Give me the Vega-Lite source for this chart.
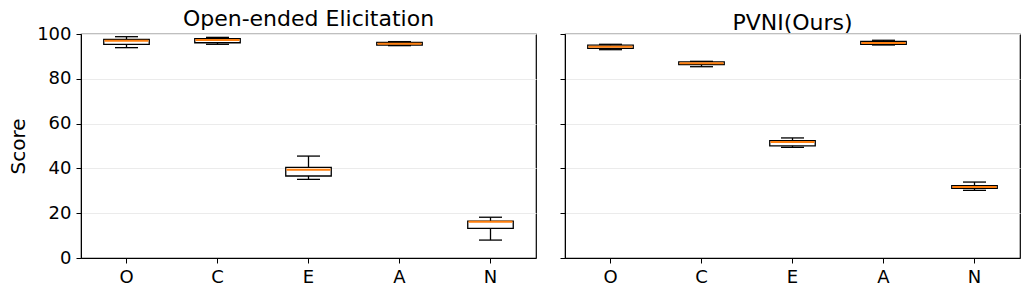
{
  "$schema": "https://vega.github.io/schema/vega-lite/v6.json",
  "padding": {"left": 8, "top": 7, "right": 5, "bottom": 5},
  "background": "white",
  "config": {
    "font": "DejaVu Sans",
    "view": {"stroke": "black", "strokeWidth": 1.2},
    "axis": {"labelFontSize": 18, "labelColor": "black", "tickColor": "black", "domainColor": "black", "titleFontWeight": "normal", "labelFont": "DejaVu Sans", "titleFont": "DejaVu Sans"},
    "title": {"fontSize": 22, "fontWeight": "normal", "font": "DejaVu Sans", "color": "black"},
    "tick": {"opacity": 1},
    "bar": {"opacity": 1}
  },
  "datasets": {
    "stats": [
      {"panel": "Open-ended Elicitation", "trait": "O", "min": 93.9, "q1": 95.4, "median": 97.0, "q3": 97.6, "max": 98.8},
      {"panel": "Open-ended Elicitation", "trait": "C", "min": 95.4, "q1": 96.1, "median": 97.3, "q3": 97.9, "max": 98.5},
      {"panel": "Open-ended Elicitation", "trait": "E", "min": 35.1, "q1": 36.6, "median": 39.4, "q3": 40.5, "max": 45.5},
      {"panel": "Open-ended Elicitation", "trait": "A", "min": 94.8, "q1": 95.1, "median": 95.7, "q3": 96.3, "max": 96.6},
      {"panel": "Open-ended Elicitation", "trait": "N", "min": 8.0, "q1": 13.2, "median": 16.2, "q3": 16.5, "max": 18.2},
      {"panel": "PVNI(Ours)", "trait": "O", "min": 93.0, "q1": 93.6, "median": 94.3, "q3": 95.0, "max": 95.4},
      {"panel": "PVNI(Ours)", "trait": "C", "min": 85.4, "q1": 86.3, "median": 86.9, "q3": 87.6, "max": 87.8},
      {"panel": "PVNI(Ours)", "trait": "E", "min": 49.4, "q1": 50.1, "median": 51.8, "q3": 52.4, "max": 53.6},
      {"panel": "PVNI(Ours)", "trait": "A", "min": 95.1, "q1": 95.4, "median": 96.0, "q3": 96.7, "max": 97.2},
      {"panel": "PVNI(Ours)", "trait": "N", "min": 30.2, "q1": 31.1, "median": 31.7, "q3": 32.3, "max": 33.9}
    ]
  },
  "spacing": 21,
  "hconcat": [
    {
      "title": {"text": "Open-ended Elicitation", "offset": -6},
      "width": 455,
      "height": 224,
      "data": {"name": "stats"},
      "transform": [{"filter": "datum.panel === 'Open-ended Elicitation'"}],
      "encoding": {
        "x": {"field": "trait", "type": "nominal", "sort": ["O", "C", "E", "A", "N"], "scale": {"paddingInner": 0, "paddingOuter": 0}, "axis": {"title": null, "labelAngle": 0, "labelPadding": 5, "tickSize": 5}}
      },
      "layer": [
        {"mark": {"type": "rule", "color": "black", "strokeWidth": 1.3}, "encoding": {"y": {"field": "min", "type": "quantitative", "scale": {"domain": [0, 100], "nice": false}, "axis": {"title": "Score", "titleFontSize": 20, "titleColor": "black", "values": [0, 20, 40, 60, 80, 100], "grid": true, "gridColor": "#ebebeb", "tickSize": 5, "labelPadding": 5, "titlePadding": 8}}, "y2": {"field": "max"}}},
        {"mark": {"type": "bar", "fill": "white", "stroke": "black", "strokeWidth": 1.3, "width": {"band": 0.5}}, "encoding": {"y": {"field": "q1", "type": "quantitative"}, "y2": {"field": "q3"}}},
        {"mark": {"type": "tick", "color": "black", "size": 23, "thickness": 1.3}, "encoding": {"y": {"field": "min", "type": "quantitative"}}},
        {"mark": {"type": "tick", "color": "black", "size": 23, "thickness": 1.3}, "encoding": {"y": {"field": "max", "type": "quantitative"}}},
        {"mark": {"type": "tick", "color": "#ff7f0e", "size": 44, "thickness": 2}, "encoding": {"y": {"field": "median", "type": "quantitative"}}}
      ]
    },
    {
      "title": {"text": "PVNI(Ours)", "offset": -1},
      "width": 455,
      "height": 224,
      "data": {"name": "stats"},
      "transform": [{"filter": "datum.panel === 'PVNI(Ours)'"}],
      "encoding": {
        "x": {"field": "trait", "type": "nominal", "sort": ["O", "C", "E", "A", "N"], "scale": {"paddingInner": 0, "paddingOuter": 0}, "axis": {"title": null, "labelAngle": 0, "labelPadding": 5, "tickSize": 5}}
      },
      "layer": [
        {"mark": {"type": "rule", "color": "black", "strokeWidth": 1.3}, "encoding": {"y": {"field": "min", "type": "quantitative", "scale": {"domain": [0, 100], "nice": false}, "axis": {"title": null, "labels": false, "values": [0, 20, 40, 60, 80, 100], "grid": true, "gridColor": "#ebebeb", "tickSize": 5}}, "y2": {"field": "max"}}},
        {"mark": {"type": "bar", "fill": "white", "stroke": "black", "strokeWidth": 1.3, "width": {"band": 0.5}}, "encoding": {"y": {"field": "q1", "type": "quantitative"}, "y2": {"field": "q3"}}},
        {"mark": {"type": "tick", "color": "black", "size": 23, "thickness": 1.3}, "encoding": {"y": {"field": "min", "type": "quantitative"}}},
        {"mark": {"type": "tick", "color": "black", "size": 23, "thickness": 1.3}, "encoding": {"y": {"field": "max", "type": "quantitative"}}},
        {"mark": {"type": "tick", "color": "#ff7f0e", "size": 44, "thickness": 2}, "encoding": {"y": {"field": "median", "type": "quantitative"}}}
      ]
    }
  ]
}
